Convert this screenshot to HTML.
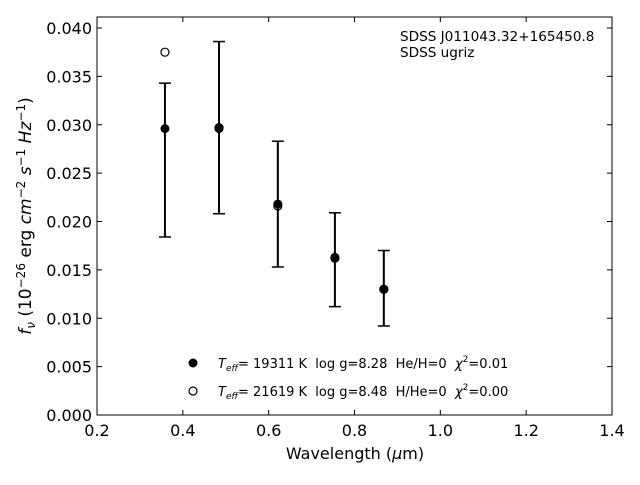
<!DOCTYPE html>
<html><head><meta charset="utf-8"><style>
body{margin:0;background:#fff;width:640px;height:480px;overflow:hidden}
text{font-family:"DejaVu Sans","Liberation Sans",sans-serif;fill:#000;white-space:pre}
</style></head><body>
<svg id="chart" width="640" height="480" xmlns="http://www.w3.org/2000/svg" xml:space="preserve">
<g id="axes"></g>
<g id="marks"></g>
<text x="400" y="41" font-size="13.6">SDSS J011043.32+165450.8</text>
<text x="400" y="57" font-size="13.6">SDSS ugriz</text>
<text x="355" y="459" font-size="16" text-anchor="middle">Wavelength (<tspan font-style="italic">μ</tspan>m)</text>
<text transform="translate(31,216) rotate(-90)" font-size="17" text-anchor="middle"><tspan font-style="italic">f</tspan><tspan font-style="italic" font-size="12" dy="4">ν</tspan><tspan dy="-4"> (10</tspan><tspan font-size="12" dy="-6">−26</tspan><tspan dy="6"> erg </tspan><tspan font-style="italic">cm</tspan><tspan font-size="12" dy="-6">−2</tspan><tspan dy="6" font-style="italic"> s</tspan><tspan font-size="12" dy="-6">−1</tspan><tspan dy="6" font-style="italic"> Hz</tspan><tspan font-size="12" dy="-6">−1</tspan><tspan dy="6">)</tspan></text>
<g font-size="13">
<circle cx="193" cy="363" r="4.5" fill="#000"/>
<text x="218" y="368"><tspan font-style="italic">T</tspan><tspan font-style="italic" font-size="9" dy="3">eff</tspan><tspan dy="-3">= 19311 K  log g=8.28  He/H=0  </tspan><tspan font-style="italic">χ</tspan><tspan font-size="9" dy="-6">2</tspan><tspan dy="6">=0.01</tspan></text>
<circle cx="193" cy="391" r="4" fill="#fff" stroke="#000" stroke-width="1.2"/>
<text x="218" y="396"><tspan font-style="italic">T</tspan><tspan font-style="italic" font-size="9" dy="3">eff</tspan><tspan dy="-3">= 21619 K  log g=8.48  H/He=0  </tspan><tspan font-style="italic">χ</tspan><tspan font-size="9" dy="-6">2</tspan><tspan dy="6">=0.00</tspan></text>
</g>
</svg>
<script>
const wavelengths=[0.356,0.482,0.619,0.752,0.866];
const observedFlux=[0.0296,0.0296,0.0218,0.0163,0.0130];
const errLow=[0.0184,0.0208,0.0153,0.0112,0.0092];
const errHigh=[0.0343,0.0386,0.0283,0.0209,0.0170];
const modelFlux=[0.0375,0.0297,0.0216,0.0162,0.0130];
const xTicks=[0.2,0.4,0.6,0.8,1.0,1.2,1.4];
const xTickLabels=["0.2","0.4","0.6","0.8","1.0","1.2","1.4"];
const yTicks=[0,0.005,0.01,0.015,0.02,0.025,0.03,0.035,0.04];
const yTickLabels=["0.000","0.005","0.010","0.015","0.020","0.025","0.030","0.035","0.040"];
const L=97,R=612,T=17,B=415,xMin=0.2,xMax=1.4,yMin=0,yPer=(415-28)/0.04;
const X=v=>L+(v-xMin)/(xMax-xMin)*(R-L);
const Y=v=>B-(v-yMin)*yPer;
const NS="http://www.w3.org/2000/svg";
function mk(p,t,a){const e=document.createElementNS(NS,t);for(const k in a)e.setAttribute(k,a[k]);p.appendChild(e);return e;}
const ax=document.getElementById('axes'),mg=document.getElementById('marks');
let fr=mk(ax,'rect',{x:L,y:T,width:R-L,height:B-T,fill:'none',stroke:'#000','stroke-width':1});

xTicks.forEach((v,i)=>{const x=X(v);
 mk(ax,'line',{x1:x,x2:x,y1:B,y2:B-5,stroke:'#000'});mk(ax,'line',{x1:x,x2:x,y1:T,y2:T+5,stroke:'#000'});
 const t=mk(ax,'text',{x:x,y:B+21,'font-size':16,'text-anchor':'middle'});t.textContent=xTickLabels[i];
 });
yTicks.forEach((v,i)=>{const y=Y(v);
 mk(ax,'line',{x1:L,x2:L+5,y1:y,y2:y,stroke:'#000'});mk(ax,'line',{x1:R,x2:R-5,y1:y,y2:y,stroke:'#000'});
 const t=mk(ax,'text',{x:L-5,y:y+6,'font-size':16,'text-anchor':'end'});t.textContent=yTickLabels[i];
 });
modelFlux.forEach((v,i)=>{const c=mk(mg,'circle',{cx:X(wavelengths[i])+1,cy:Y(v),r:4,fill:'#fff',stroke:'#000','stroke-width':1.2});
 });
wavelengths.forEach((w,i)=>{const x=X(w)+1;
 const g=mk(mg,'g',{});
 mk(g,'line',{x1:x,x2:x,y1:Y(errLow[i]),y2:Y(errHigh[i]),stroke:'#000','stroke-width':2});
 mk(g,'line',{x1:x-6,x2:x+6,y1:Y(errLow[i]),y2:Y(errLow[i]),stroke:'#000','stroke-width':1.5});
 mk(g,'line',{x1:x-6,x2:x+6,y1:Y(errHigh[i]),y2:Y(errHigh[i]),stroke:'#000','stroke-width':1.5});
 const c=mk(mg,'circle',{cx:x,cy:Y(observedFlux[i]),r:4.5,fill:'#000'});
 });
</script>
</body></html>
